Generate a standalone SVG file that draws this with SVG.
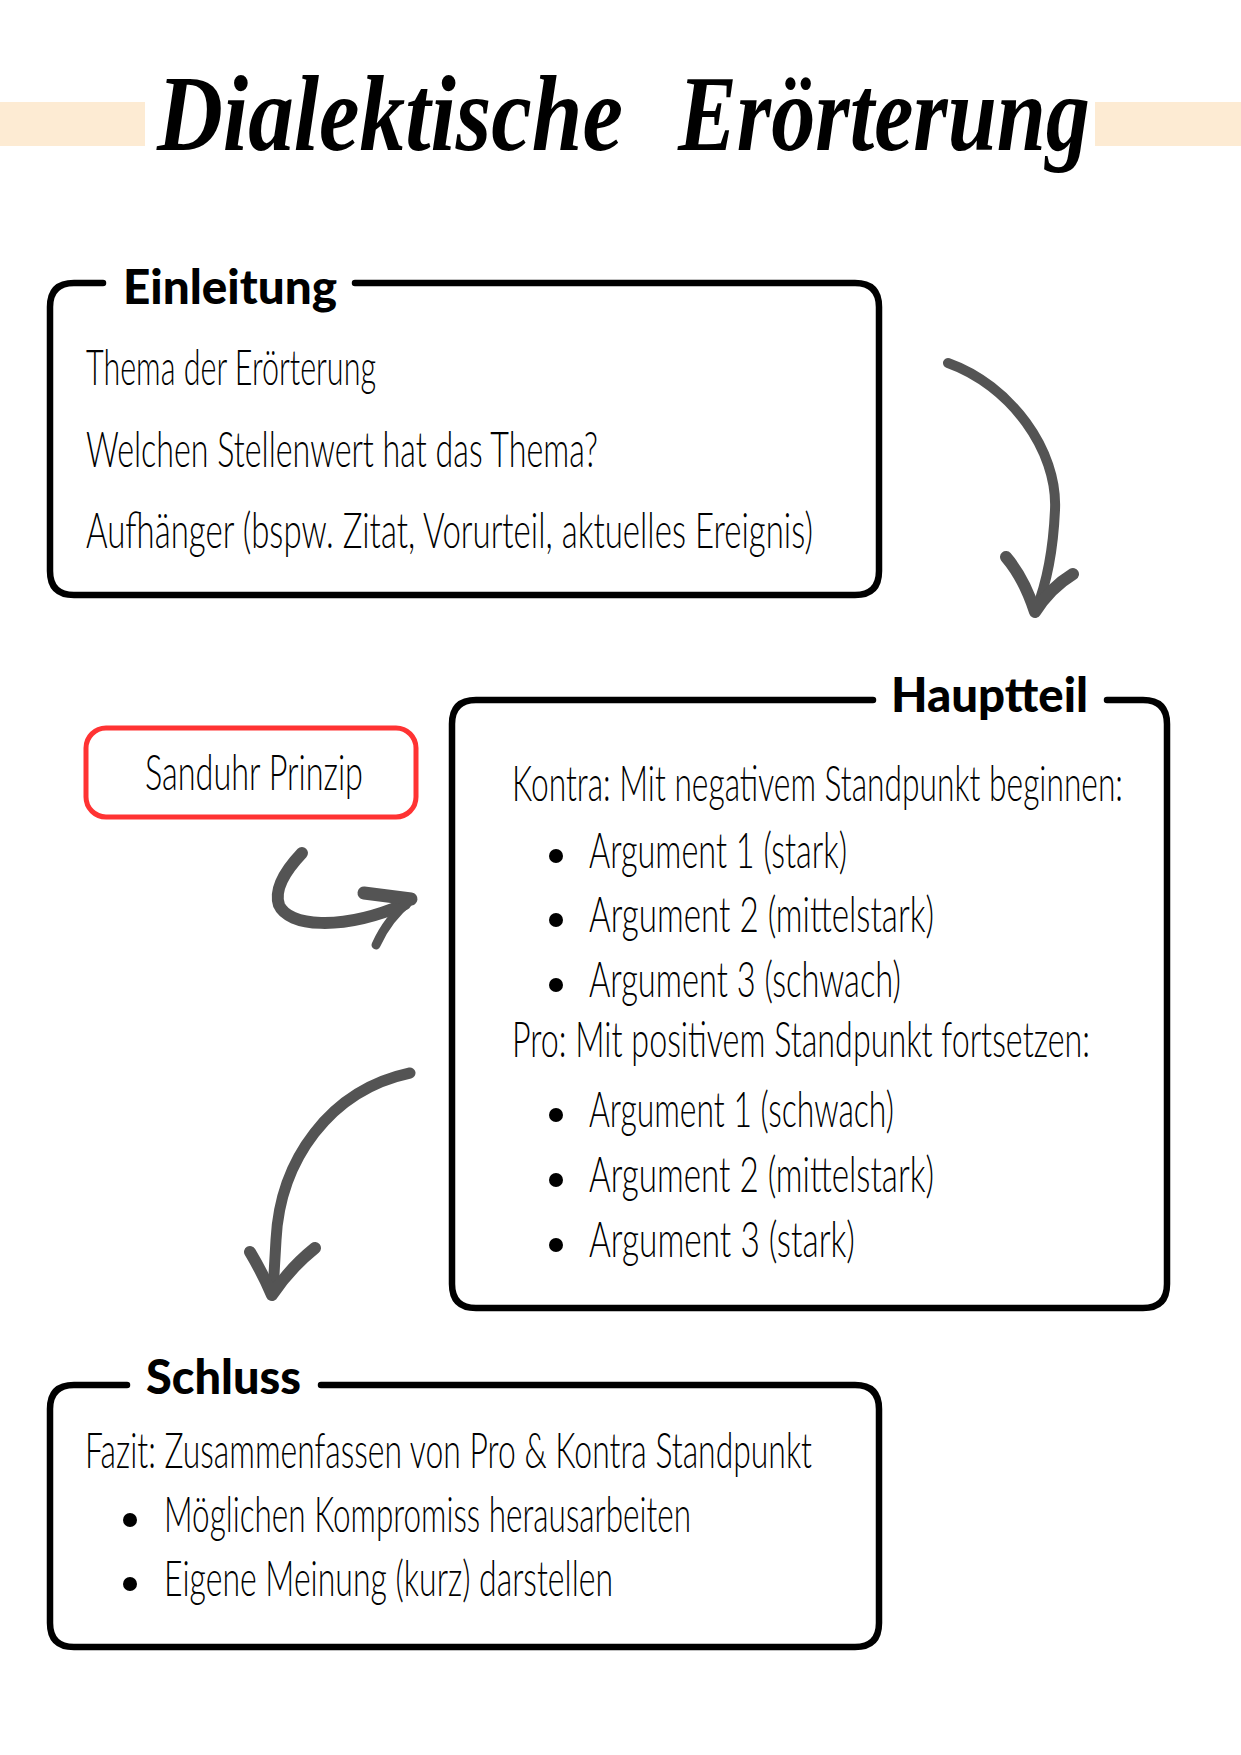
<svg xmlns="http://www.w3.org/2000/svg" width="1241" height="1755" viewBox="0 0 1241 1755">
<style>
.bg{fill:#ffffff}
.band{fill:#FDEBD3}
.title{font-family:"Liberation Serif","DejaVu Serif",serif;font-weight:bold;font-style:italic;font-size:108px;fill:#000}
.box{fill:none;stroke:#000;stroke-width:6.5;stroke-linecap:round;stroke-linejoin:round}
.head{font-family:Lato,"Noto Sans",sans-serif;font-weight:900;font-size:48px;fill:#000}
.body{font-family:Lato,"Open Sans",sans-serif;font-weight:300;font-size:50px;fill:#000}
.small{font-size:36px}
.dot{fill:#000}
.red{fill:none;stroke:#FF3333;stroke-width:5}
.arr{fill:none;stroke:#545454;stroke-linecap:round;stroke-linejoin:round}
</style>
<rect class="bg" x="0" y="0" width="1241" height="1755"/>
<g id="title">
<rect class="band" x="0" y="102" width="145" height="44"/>
<rect class="band" x="1095" y="102" width="146" height="44"/>
<text class="title" x="157" y="150" textLength="466" lengthAdjust="spacingAndGlyphs">Dialektische</text>
<text class="title" x="678" y="150" textLength="412" lengthAdjust="spacingAndGlyphs">Erörterung</text>
</g>
<g id="einleitung">
<path class="box" d="M355,283 H855 Q879,283 879,307 V571 Q879,595 855,595 H74 Q50,595 50,571 V307 Q50,283 74,283 H103"/>
<text class="head" x="123" y="304" textLength="214" lengthAdjust="spacingAndGlyphs">Einleitung</text>
<text class="body" x="86" y="385" textLength="290" lengthAdjust="spacingAndGlyphs">Thema der Erörterung</text>
<text class="body" x="86" y="467" textLength="512" lengthAdjust="spacingAndGlyphs">Welchen Stellenwert hat das Thema?</text>
<text class="body" x="86" y="548" textLength="727" lengthAdjust="spacingAndGlyphs">Aufhänger (bspw. Zitat, Vorurteil, aktuelles Ereignis)</text>
</g>
<g id="sanduhr">
<rect class="red" x="86" y="728" width="330" height="89" rx="20"/>
<text class="body" x="145" y="790" textLength="218" lengthAdjust="spacingAndGlyphs">Sanduhr Prinzip</text>
</g>
<g id="hauptteil">
<path class="box" d="M1107,700 H1143 Q1167,700 1167,724 V1284 Q1167,1308 1143,1308 H476 Q452,1308 452,1284 V724 Q452,700 476,700 H873"/>
<text class="head" x="891" y="712" textLength="197" lengthAdjust="spacingAndGlyphs">Hauptteil</text>
<text class="body small" x="0" y="0" transform="translate(512,801) scale(1,1.39)" textLength="611" lengthAdjust="spacingAndGlyphs">Kontra: Mit negativem Standpunkt beginnen:</text>
<circle class="dot" cx="556" cy="856" r="7"/>
<text class="body" x="589" y="868" textLength="258" lengthAdjust="spacingAndGlyphs">Argument 1 (stark)</text>
<circle class="dot" cx="556" cy="920" r="7"/>
<text class="body" x="589" y="932" textLength="345" lengthAdjust="spacingAndGlyphs">Argument 2 (mittelstark)</text>
<circle class="dot" cx="556" cy="985" r="7"/>
<text class="body" x="589" y="997" textLength="312" lengthAdjust="spacingAndGlyphs">Argument 3 (schwach)</text>
<text class="body small" x="0" y="0" transform="translate(512,1057) scale(1,1.39)" textLength="578" lengthAdjust="spacingAndGlyphs">Pro: Mit positivem Standpunkt fortsetzen:</text>
<circle class="dot" cx="556" cy="1115" r="7"/>
<text class="body" x="589" y="1127" textLength="305" lengthAdjust="spacingAndGlyphs">Argument 1 (schwach)</text>
<circle class="dot" cx="556" cy="1180" r="7"/>
<text class="body" x="589" y="1192" textLength="345" lengthAdjust="spacingAndGlyphs">Argument 2 (mittelstark)</text>
<circle class="dot" cx="556" cy="1245" r="7"/>
<text class="body" x="589" y="1257" textLength="266" lengthAdjust="spacingAndGlyphs">Argument 3 (stark)</text>
</g>
<g id="schluss">
<path class="box" d="M321,1385 H855 Q879,1385 879,1409 V1623 Q879,1647 855,1647 H74 Q50,1647 50,1623 V1409 Q50,1385 74,1385 H127"/>
<text class="head" x="146" y="1394" textLength="155" lengthAdjust="spacingAndGlyphs">Schluss</text>
<text class="body" x="85" y="1468" textLength="727" lengthAdjust="spacingAndGlyphs">Fazit: Zusammenfassen von Pro &amp; Kontra Standpunkt</text>
<circle class="dot" cx="130" cy="1520" r="7"/>
<text class="body" x="164" y="1532" textLength="527" lengthAdjust="spacingAndGlyphs">Möglichen Kompromiss herausarbeiten</text>
<circle class="dot" cx="130" cy="1584" r="7"/>
<text class="body" x="164" y="1596" textLength="449" lengthAdjust="spacingAndGlyphs">Eigene Meinung (kurz) darstellen</text>
</g>
<g id="connectors">
<path class="arr" stroke-width="10" d="M948,363 C1010,385 1058,450 1055,510 C1053,555 1046,585 1036,610"/>
<path class="arr" stroke-width="12" d="M1006,557 Q1024,578 1035,612 M1073,574 Q1050,588 1035,612"/>
<path class="arr" stroke-width="12" d="M302,853 C284,872 274,890 279,905 C288,926 340,932 405,904"/>
<path class="arr" stroke-width="13" d="M364,893 L411,899"/>
<path class="arr" stroke-width="9" d="M411,900 Q388,918 376,945"/>
<path class="arr" stroke-width="11" d="M410,1073 C330,1090 280,1160 276,1240 L273,1292"/>
<path class="arr" stroke-width="12" d="M250,1252 Q262,1272 272,1295 M315,1248 Q290,1268 272,1295"/>
</g>
</svg>
